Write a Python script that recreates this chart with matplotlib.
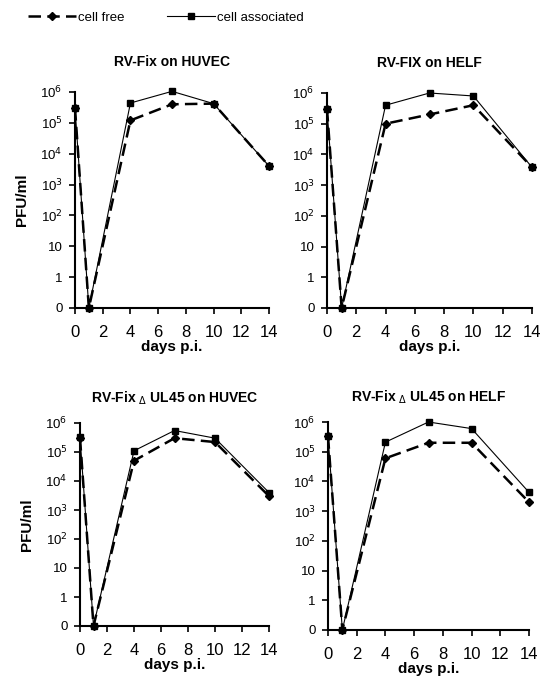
import matplotlib.pyplot as plt
import numpy as np

plt.rcParams['font.family'] = ['Liberation Sans', 'DejaVu Sans']

days = [0, 1, 4, 7, 10, 14]

# PFU/ml (0 = nothing detected)
huvec_free = [3e5, 0, 1.2e5, 4e5, 4.2e5, 4e3]
huvec_assoc = [3e5, 0, 4.4e5, 1.05e6, 4.2e5, 4e3]
helf_free = [3e5, 0, 1e5, 2e5, 4e5, 3.8e3]
helf_assoc = [3e5, 0, 4e5, 1e6, 8e5, 3.8e3]
dhuvec_free = [3e5, 0, 5e4, 3e5, 2.2e5, 3e3]
dhuvec_assoc = [3.3e5, 0, 1.1e5, 5.5e5, 3e5, 4e3]
dhelf_free = [3.3e5, 0, 6e4, 2e5, 2e5, 2e3]
dhelf_assoc = [3.3e5, 0, 2.1e5, 1e6, 6e5, 4.3e3]

titles = ['RV-Fix on HUVEC', 'RV-FIX on HELF',
          r'RV-Fix $_{\Delta}$ UL45 on HUVEC', r'RV-Fix $_{\Delta}$ UL45 on HELF']
free_all = [huvec_free, helf_free, dhuvec_free, dhelf_free]
assoc_all = [huvec_assoc, helf_assoc, dhuvec_assoc, dhelf_assoc]

yticks = [0, 1, 10, 1e2, 1e3, 1e4, 1e5, 1e6]
ylabels = ['0', '1', '10', '10$^2$', '10$^3$', '10$^4$', '10$^5$', '10$^6$']

# axes boxes in pixels: left, right, top, bottom
boxes = [(75, 269, 92, 308), (327, 532, 93, 308),
         (80, 269, 423, 626), (328, 529, 422, 630)]
W, H = 545, 684

fig = plt.figure(figsize=(5.45, 6.84), dpi=100)

for i, (l, r, t, b) in enumerate(boxes):
    ax = fig.add_axes([l / W, 1 - b / H, (r - l) / W, (b - t) / H])
    # symlog with linscale 0.9 -> 0,1,10,100 equally spaced
    ax.set_yscale('symlog', linthresh=1, linscale=0.9)
    ax.plot(days, free_all[i], color='black', lw=1.8, ls=(0, (5, 2.5)),
            marker='D', ms=4, clip_on=False, label='cell free', zorder=3)
    ax.plot(days, assoc_all[i], color='black', lw=0.8, ls='-',
            marker='s', ms=5, clip_on=False, label='cell associated', zorder=4)
    ax.set_xlim(0, 14)
    ax.set_ylim(0, 1e6)
    ax.set_xticks(range(0, 15, 2))
    ax.set_yticks(yticks)
    ax.set_yticklabels(ylabels)
    ax.yaxis.set_minor_locator(plt.NullLocator())
    ax.spines['top'].set_visible(False)
    ax.spines['right'].set_visible(False)
    ax.spines['left'].set_linewidth(1.5)
    ax.spines['bottom'].set_linewidth(1.5)
    ax.tick_params(axis='x', direction='out', length=4, width=1.2, labelsize=12, pad=8)
    ax.tick_params(axis='y', direction='out', length=4, width=1.2, labelsize=9.5, pad=5)
    ax.set_title(titles[i], fontsize=10, fontweight='bold', pad=19 if i < 2 else 15)
    ax.set_xlabel('days p.i.', fontsize=11, fontweight='bold', labelpad=0)
    if i % 2 == 0:
        ax.set_ylabel('PFU/ml', fontsize=11, fontweight='bold', labelpad=8)
    if i == 0:
        handles, labs = ax.get_legend_handles_labels()

fig.legend(handles, labs, loc='upper left', bbox_to_anchor=(0.03, 1.0), ncol=2,
           frameon=False, fontsize=9.5, handlelength=3.6, handletextpad=0.2,
           columnspacing=3.2)

fig.savefig('out.png', dpi=100)
